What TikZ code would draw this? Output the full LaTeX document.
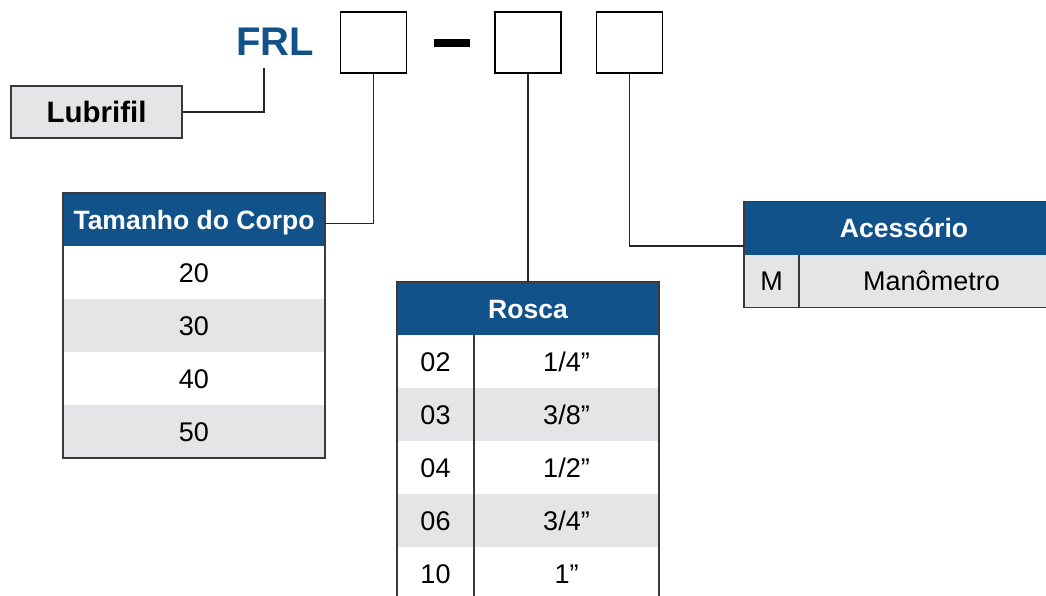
\documentclass[tikz,border=0pt]{standalone}
\usepackage{fontspec}
\setmainfont{Liberation Sans}
\usetikzlibrary{positioning}
\definecolor{frlblue}{HTML}{12528A}
\definecolor{rowgray}{HTML}{E4E5E7}
\definecolor{edge}{HTML}{3A3A3A}
\tikzstyle{codebox} = [draw=black,line width=1.6pt,minimum width=66pt,minimum height=61pt,inner sep=0pt]
\tikzstyle{hdr} = [fill=frlblue,text=white,font=\fontsize{26.5}{30}\selectfont\bfseries,minimum height=53pt,text height=19pt,text depth=0pt,inner sep=0pt,outer sep=0pt]
\tikzstyle{cell} = [font=\fontsize{27}{30}\selectfont,minimum height=53pt,text height=19pt,text depth=0pt,inner sep=0pt,outer sep=0pt]
\tikzstyle{wire} = [draw=black!85,line width=1.2pt]
\tikzstyle{frame} = [draw=edge,line width=1.2pt]

\begin{document}
\begin{tikzpicture}[x=1pt,y=-1pt]
\useasboundingbox (0,0) rectangle (1046,596);

% code line
\node[text=frlblue,font=\fontsize{40}{44}\selectfont\bfseries,inner sep=0pt] (frl) at (275,42) {FRL};
\node[codebox] (b_1) at (373.5,42.5) {};
\fill (434,39) rectangle (470,47);
\node[codebox] (b_2) at (528,42.5) {};
\node[codebox] (b_3) at (629.5,42.5) {};

% Lubrifil
\node[frame,fill=rowgray,font=\fontsize{29.5}{32}\selectfont\bfseries,minimum width=171pt,minimum height=52pt,inner sep=0pt] (lub) at (96.5,112) {Lubrifil};
\coordinate (frl_foot) at (264,68);
\draw[wire] (lub.east) -| (frl_foot);

% Tamanho do Corpo
\node[hdr,minimum width=262pt] (tam) at (194,219.5) {Tamanho do Corpo};
\foreach \v/\c [count=\i] in {20/white,30/rowgray,40/white,50/rowgray}
  \node[cell,fill=\c,minimum width=262pt] (tam_\i) at (194,219.5+53*\i) {\v};
\draw[frame] (tam.north west) rectangle (tam_4.south east);

% Rosca
\node[hdr,minimum width=262pt] (ros) at (528,308.5) {Rosca};
\foreach \k/\v/\c [count=\i] in {02/{1/4”}/white,03/{3/8”}/rowgray,04/{1/2”}/white,06/{3/4”}/rowgray,10/{1”}/white}{
  \node[cell,fill=\c,minimum width=77pt] (rk_\i) at (435.5,308.5+53*\i) {\k};
  \node[cell,fill=\c,minimum width=185pt] (rv_\i) at (566.5,308.5+53*\i) {\v};
}
\draw[frame] (ros.north west) rectangle (rv_5.south east);
\draw[frame] (rk_1.north east) -- (rk_5.south east);

% Acessorio
\node[hdr,minimum width=320pt] (acc) at (904,228) {Acessório};
\node[cell,fill=rowgray,minimum width=55pt] (acc_k) at (771.5,281) {M};
\node[cell,fill=rowgray,minimum width=265pt] (acc_v) at (931.5,281) {Manômetro};
\draw[frame] (acc.north east) -- (acc.north west) -- (acc_k.south west) -- (acc_v.south east);
\draw[frame] (acc_k.north east) -- (acc_k.south east);

% connectors
\draw[wire] (b_1.south) |- ([yshift=-4pt]tam.east);
\draw[wire] (b_2.south) -- (ros.north);
\draw[wire] (b_3.south) |- ([yshift=-18pt]acc.west);

\end{tikzpicture}
\end{document}
